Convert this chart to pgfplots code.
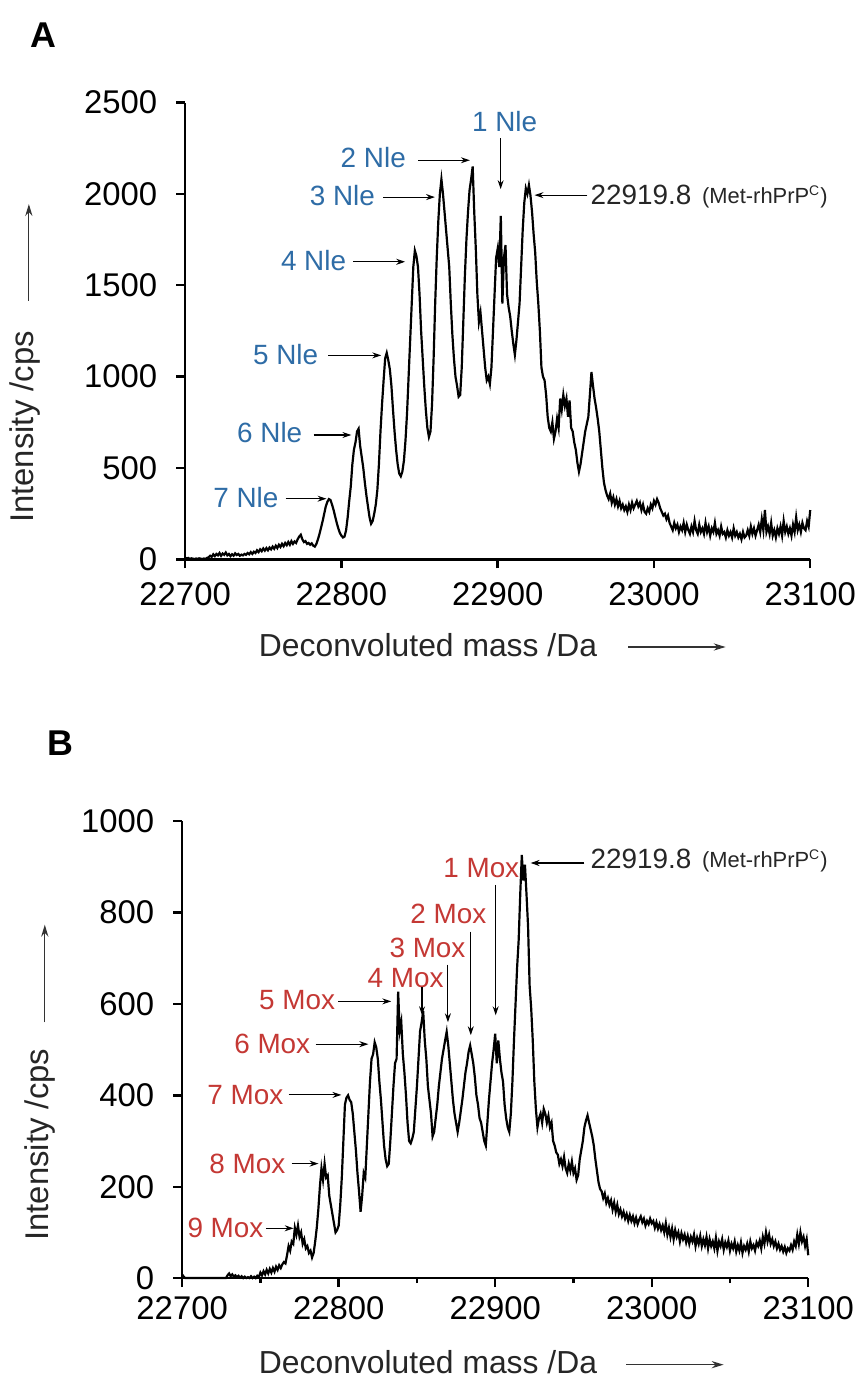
\documentclass[border=0pt]{standalone}
\usepackage{fontspec}
\setmainfont{Liberation Sans}
\usepackage{pgfplots}
\pgfplotsset{compat=1.18}
\usetikzlibrary{arrows.meta}
\definecolor{nle}{RGB}{46,108,166}
\definecolor{mox}{RGB}{196,56,52}
\newcommand{\fs}[1]{\fontsize{#1}{#1}\selectfont}
\pgfplotsset{
 myaxis/.style={
  scale only axis, height=229.5pt,
  axis lines*=left, axis line style={line width=1.2pt},
  tick style={black, line width=1.2pt},
  tick align=outside, major tick length=4.5pt,
  xmin=22700, xmax=23100, ymin=0,
  xtick={22700,22800,...,23100},
  scaled x ticks=false, scaled y ticks=false,
  ticklabel style={font=\fs{16.5}},
  /pgf/number format/assume math mode=true,
  /pgf/number format/1000 sep={},
  xticklabel style={/pgf/number format/fixed, /pgf/number format/precision=0},
  yticklabel style={xshift=-6pt},
  clip=false,
 }
}
\begin{document}
\begin{tikzpicture}
\begin{scope}[x=0.5pt,y=-0.5pt]
\useasboundingbox (0,0) rectangle (863,1380);
\end{scope}
% ---------------- Panel A ----------------
\begin{axis}[myaxis, width=314pt, at={(93pt,-281pt)}, anchor=south west,
  ymax=2500, ytick={0,500,...,2500}, xticklabel style={yshift=-3.5pt}]
\addplot[black, line width=1.1pt] coordinates {
(22700,10)(22701,5)(22702,8)(22703,3)(22704,6)(22705,4)(22706,2)(22707,5)(22708,3)(22709,6)
(22710,4)(22711,2)(22712,5)(22713,3)(22714,8)(22715,12)(22716,20)(22717,14)(22718,28)(22719,18)
(22720,30)(22721,22)(22722,35)(22723,20)(22724,32)(22725,25)(22726,38)(22727,22)(22728,30)(22729,18)
(22730,28)(22731,20)(22732,33)(22733,24)(22734,30)(22735,20)(22736,26)(22737,22)(22738,30)(22739,25)
(22740,35)(22741,28)(22742,40)(22743,30)(22744,42)(22745,35)(22746,50)(22747,40)(22748,55)(22749,45)
(22750,60)(22751,48)(22752,62)(22753,50)(22754,65)(22755,55)(22756,70)(22757,58)(22758,75)(22759,62)
(22760,80)(22761,68)(22762,85)(22763,72)(22764,90)(22765,78)(22766,95)(22767,80)(22768,100)(22769,85)
(22770,98)(22771,90)(22772,110)(22773,125)(22774,135)(22775,110)(22776,95)(22777,100)(22778,85)(22779,90)
(22780,80)(22781,88)(22782,75)(22783,70)(22784,85)(22785,110)(22786,140)(22787,175)(22788,210)(22789,250)
(22790,290)(22791,315)(22792,330)(22793,325)(22794,300)(22795,270)(22796,235)(22797,200)(22798,170)(22799,145)
(22800,130)(22801,120)(22802,125)(22803,160)(22804,230)(22805,320)(22806,400)(22807,520)(22808,600)(22809,640)
(22810,700)(22811,715)(22812,620)(22813,560)(22814,500)(22815,420)(22816,350)(22817,290)(22818,230)(22819,195)
(22820,210)(22821,250)(22822,300)(22823,380)(22824,520)(22825,700)(22826,850)(22827,980)(22828,1100)(22829,1130)
(22830,1090)(22831,1040)(22832,950)(22833,820)(22834,700)(22835,600)(22836,520)(22837,470)(22838,455)(22839,480)
(22840,540)(22841,650)(22842,800)(22843,1000)(22844,1200)(22845,1400)(22846,1600)(22847,1690)(22848,1660)(22849,1600)
(22850,1450)(22851,1250)(22852,1100)(22853,950)(22854,820)(22855,720)(22856,670)(22857,700)(22858,850)(22859,1100)
(22860,1400)(22861,1650)(22862,1850)(22863,2000)(22864,2080)(22865,2000)(22866,1900)(22867,1800)(22868,1700)(22869,1600)
(22870,1400)(22871,1230)(22872,1100)(22873,1000)(22874,950)(22875,890)(22876,900)(22877,1050)(22878,1300)(22879,1550)
(22880,1750)(22881,1900)(22882,2020)(22883,2080)(22884,2150)(22885,1900)(22886,1700)(22887,1450)(22888,1300)(22889,1350)
(22890,1250)(22891,1150)(22892,1050)(22893,980)(22894,1000)(22895,960)(22896,1050)(22897,1250)(22898,1450)(22899,1650)
(22900,1700)(22901,1600)(22902,1880)(22903,1400)(22904,1650)(22905,1720)(22906,1450)(22907,1380)(22908,1330)(22909,1250)
(22910,1180)(22911,1120)(22912,1200)(22913,1300)(22914,1400)(22915,1600)(22916,1800)(22917,1950)(22918,2030)(22919,2000)
(22920,2048)(22921,1990)(22922,1900)(22923,1780)(22924,1680)(22925,1520)(22926,1400)(22927,1250)(22928,1050)(22929,1000)
(22930,980)(22931,900)(22932,780)(22933,720)(22934,700)(22935,750)(22936,660)(22937,700)(22938,770)(22939,720)
(22940,880)(22941,820)(22942,900)(22943,840)(22944,880)(22945,780)(22946,870)(22947,720)(22948,700)(22949,640)
(22950,600)(22951,530)(22952,480)(22953,520)(22954,580)(22955,640)(22956,700)(22957,740)(22958,780)(22959,900)
(22960,1025)(22961,950)(22962,880)(22963,830)(22964,770)(22965,700)(22966,600)(22967,500)(22968,420)(22969,380)
(22970,350)(22971,330)(22972,360)(22973,310)(22974,340)(22975,300)(22976,330)(22977,290)(22978,320)(22979,280)
(22980,300)(22981,270)(22982,290)(22983,260)(22984,300)(22985,270)(22986,310)(22987,280)(22988,300)(22989,320)
(22990,290)(22991,310)(22992,270)(22993,300)(22994,260)(22995,250)(22996,280)(22997,260)(22998,300)(22999,280)
(23000,320)(23001,300)(23002,330)(23003,310)(23004,280)(23005,260)(23006,240)(23007,250)(23008,220)(23009,240)
(23010,200)(23011,180)(23012,160)(23013,200)(23014,170)(23015,190)(23016,150)(23017,180)(23018,160)(23019,200)
(23020,150)(23021,190)(23022,160)(23023,140)(23024,180)(23025,150)(23026,210)(23027,160)(23028,140)(23029,190)
(23030,150)(23031,170)(23032,140)(23033,200)(23034,150)(23035,180)(23036,130)(23037,170)(23038,150)(23039,200)
(23040,140)(23041,160)(23042,130)(23043,180)(23044,140)(23045,150)(23046,120)(23047,160)(23048,130)(23049,150)
(23050,120)(23051,170)(23052,130)(23053,150)(23054,120)(23055,140)(23056,110)(23057,150)(23058,120)(23059,130)
(23060,160)(23061,130)(23062,180)(23063,140)(23064,170)(23065,130)(23066,160)(23067,190)(23068,150)(23069,220)
(23070,160)(23071,270)(23072,150)(23073,180)(23074,140)(23075,200)(23076,130)(23077,160)(23078,120)(23079,170)
(23080,140)(23081,180)(23082,130)(23083,210)(23084,150)(23085,180)(23086,140)(23087,170)(23088,130)(23089,190)
(23090,150)(23091,230)(23092,160)(23093,190)(23094,150)(23095,200)(23096,170)(23097,160)(23098,210)(23099,180)
(23100,270)
};
\end{axis}
% ---------------- Panel B ----------------
\begin{axis}[myaxis, width=314.5pt, at={(91.5pt,-642pt)}, anchor=south west,
  ymax=1000, ytick={0,200,...,1000}, minor x tick num=1, minor tick length=2.5pt,
  xticklabel style={yshift=-1.5pt}]
\addplot[black, line width=1.1pt] coordinates {
(22700,8)(22701,3)(22702,0)(22710,0)(22720,0)(22728,0)(22729,6)
(22730,10)(22731,4)(22732,8)(22733,3)(22734,6)(22735,2)(22736,5)(22737,1)(22738,4)(22739,0)
(22740,3)(22741,0)(22742,2)(22743,0)(22744,4)(22745,0)(22746,3)(22747,0)(22748,5)(22749,2)
(22750,12)(22751,6)(22752,15)(22753,8)(22754,18)(22755,10)(22756,20)(22757,12)(22758,22)(22759,14)
(22760,25)(22761,18)(22762,28)(22763,22)(22764,30)(22765,35)(22766,32)(22767,50)(22768,70)(22769,60)
(22770,80)(22771,75)(22772,110)(22773,95)(22774,115)(22775,90)(22776,100)(22777,75)(22778,85)(22779,65)
(22780,70)(22781,55)(22782,60)(22783,45)(22784,55)(22785,80)(22786,110)(22787,150)(22788,200)(22789,240)
(22790,215)(22791,250)(22792,220)(22793,225)(22794,180)(22795,160)(22796,140)(22797,120)(22798,100)(22799,105)
(22800,115)(22801,160)(22802,220)(22803,300)(22804,380)(22805,395)(22806,400)(22807,390)(22808,385)(22809,360)
(22810,320)(22811,280)(22812,230)(22813,190)(22814,145)(22815,180)(22816,230)(22817,220)(22818,290)(22819,360)
(22820,430)(22821,480)(22822,490)(22823,516)(22824,505)(22825,480)(22826,430)(22827,390)(22828,340)(22829,290)
(22830,260)(22831,245)(22832,250)(22833,300)(22834,360)(22835,420)(22836,470)(22837,480)(22838,627)(22839,540)
(22840,560)(22841,490)(22842,450)(22843,400)(22844,340)(22845,300)(22846,295)(22847,305)(22848,320)(22849,370)
(22850,420)(22851,480)(22852,540)(22853,560)(22854,584)(22855,520)(22856,480)(22857,420)(22858,390)(22859,360)
(22860,310)(22861,320)(22862,350)(22863,380)(22864,420)(22865,450)(22866,480)(22867,500)(22868,520)(22869,539)
(22870,510)(22871,470)(22872,430)(22873,390)(22874,360)(22875,340)(22876,320)(22877,340)(22878,365)(22879,390)
(22880,420)(22881,450)(22882,470)(22883,495)(22884,509)(22885,490)(22886,470)(22887,440)(22888,400)(22889,380)
(22890,350)(22891,340)(22892,320)(22893,300)(22894,290)(22895,340)(22896,390)(22897,430)(22898,470)(22899,500)
(22900,535)(22901,470)(22902,520)(22903,480)(22904,450)(22905,430)(22906,380)(22907,350)(22908,330)(22909,320)
(22910,360)(22911,430)(22912,520)(22913,600)(22914,680)(22915,740)(22916,840)(22917,926)(22918,870)(22919,905)
(22920,840)(22921,770)(22922,640)(22923,590)(22924,520)(22925,430)(22926,370)(22927,330)(22928,350)(22929,360)
(22930,340)(22931,370)(22932,360)(22933,340)(22934,355)(22935,330)(22936,340)(22937,300)(22938,290)(22939,275)
(22940,270)(22941,250)(22942,260)(22943,245)(22944,265)(22945,240)(22946,230)(22947,250)(22948,235)(22949,255)
(22950,230)(22951,240)(22952,215)(22953,225)(22954,260)(22955,280)(22956,300)(22957,330)(22958,345)(22959,356)
(22960,340)(22961,325)(22962,310)(22963,290)(22964,260)(22965,235)(22966,210)(22967,195)(22968,190)(22969,175)
(22970,185)(22971,165)(22972,175)(22973,160)(22974,170)(22975,150)(22976,165)(22977,145)(22978,160)(22979,140)
(22980,150)(22981,135)(22982,145)(22983,130)(22984,140)(22985,125)(22986,138)(22987,125)(22988,135)(22989,120)
(22990,132)(22991,118)(22992,128)(22993,135)(22994,122)(22995,130)(22996,115)(22997,125)(22998,118)(22999,130)
(23000,120)(23001,125)(23002,110)(23003,122)(23004,108)(23005,118)(23006,105)(23007,115)(23008,100)(23009,120)
(23010,95)(23011,110)(23012,90)(23013,108)(23014,85)(23015,105)(23016,90)(23017,100)(23018,80)(23019,98)
(23020,85)(23021,95)(23022,78)(23023,92)(23024,75)(23025,90)(23026,80)(23027,95)(23028,70)(23029,88)
(23030,75)(23031,92)(23032,70)(23033,85)(23034,72)(23035,90)(23036,65)(23037,85)(23038,70)(23039,80)
(23040,65)(23041,88)(23042,60)(23043,80)(23044,70)(23045,85)(23046,62)(23047,78)(23048,68)(23049,82)
(23050,60)(23051,75)(23052,65)(23053,80)(23054,58)(23055,72)(23056,60)(23057,78)(23058,55)(23059,70)
(23060,62)(23061,75)(23062,58)(23063,80)(23064,65)(23065,72)(23066,60)(23067,78)(23068,70)(23069,82)
(23070,65)(23071,90)(23072,75)(23073,100)(23074,80)(23075,95)(23076,75)(23077,85)(23078,70)(23079,80)
(23080,65)(23081,75)(23082,62)(23083,70)(23084,58)(23085,68)(23086,55)(23087,65)(23088,60)(23089,72)
(23090,62)(23091,80)(23092,70)(23093,95)(23094,75)(23095,100)(23096,80)(23097,90)(23098,70)(23099,85)
(23100,50)
};
\end{axis}
% ---------------- Annotations (pixel coordinates) ----------------
\begin{scope}[x=0.5pt,y=-0.5pt,
  arr/.style={-{Stealth[length=4.5pt,width=3pt]}, line width=0.55pt, black},
  big/.style={-{Stealth[length=6pt,width=3.6pt]}, line width=0.6pt, black!80}]
% panel letters
\node[font=\bfseries\fs{18}] at (44,35) {A};
\node[font=\bfseries\fs{18}] at (61,747) {B};
% axis labels A
\node[rotate=90, font=\fs{16.5}, text=black!85] at (25,429) {Intensity /cps};
\draw[big] (29,302) -- (29,205);
\node[font=\fs{16}, text=black!85] at (430,648) {Deconvoluted mass /Da};
\draw[big] (631,650) -- (729,650);
% axis labels B
\node[rotate=90, font=\fs{16.5}, text=black!85] at (40,1150) {Intensity /cps};
\draw[big] (45,1027) -- (45,929);
\node[font=\fs{16}, text=black!85] at (430,1368) {Deconvoluted mass /Da};
\draw[big] (629,1371) -- (727,1371);
% Nle labels
\begin{scope}[every node/.style={font=\fs{14}, text=nle}]
\node at (507,122) {1 Nle};
\node at (375,158) {2 Nle};
\node at (344,196) {3 Nle};
\node at (315,262) {4 Nle};
\node at (287,356) {5 Nle};
\node at (271,435) {6 Nle};
\node at (247,500) {7 Nle};
\end{scope}
\draw[arr] (503,139) -- (503,190);
\draw[arr] (420,161) -- (472,161);
\draw[arr] (385,198) -- (437,198);
\draw[arr] (355,263) -- (407,263);
\draw[arr] (330,357) -- (383,357);
\draw[arr] (315,437) -- (353,437);
\draw[arr] (287,501) -- (328,501);
\node[anchor=west, inner sep=0pt, font=\fs{14}, text=black!85] at (593,196) {22919.8};
\node[anchor=west, inner sep=0pt, font=\fs{11}, text=black!85] at (705,198) {(Met-rhPrP\textsuperscript{\fs{7}C})};
\draw[arr] (590,196) -- (537,196);
% Mox labels
\begin{scope}[every node/.style={font=\fs{14}, text=mox}]
\node at (483.5,872) {1 Mox};
\node at (450.5,918) {2 Mox};
\node at (429.5,952) {3 Mox};
\node at (407.5,983) {4 Mox};
\node at (298.5,1005) {5 Mox};
\node at (273.5,1049) {6 Mox};
\node at (246.5,1100) {7 Mox};
\node at (248.5,1169) {8 Mox};
\node at (226.5,1234) {9 Mox};
\end{scope}
\draw[arr] (498,889) -- (498,1020);
\draw[arr] (473,936) -- (473,1040);
\draw[arr] (450,969) -- (450,1027);
\draw[arr] (424,992) -- (424,1020);
\draw[arr] (340,1006) -- (393,1006);
\draw[arr] (317,1049) -- (370,1049);
\draw[arr] (290,1100) -- (343,1100);
\draw[arr] (293,1169) -- (320,1169);
\draw[arr] (267,1234) -- (295,1234);
\node[anchor=west, inner sep=0pt, font=\fs{14}, text=black!85] at (593,863) {22919.8};
\node[anchor=west, inner sep=0pt, font=\fs{11}, text=black!85] at (705,865) {(Met-rhPrP\textsuperscript{\fs{7}C})};
\draw[arr] (587,867) -- (533,867);
\end{scope}
\end{tikzpicture}
\end{document}
